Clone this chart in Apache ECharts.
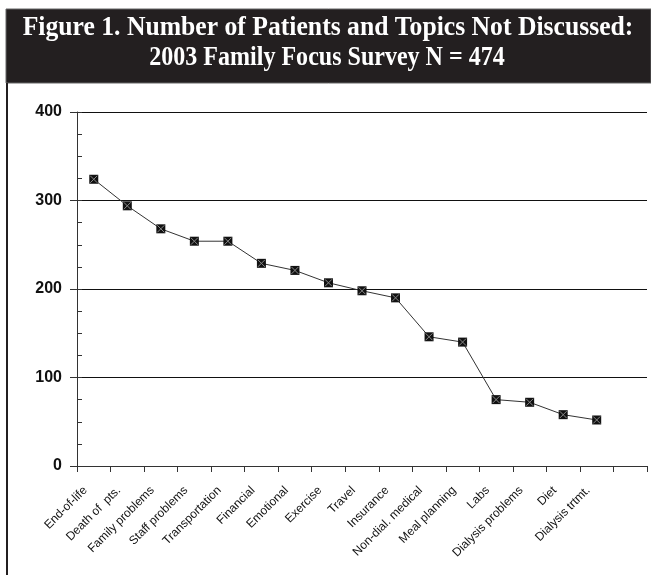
<!DOCTYPE html>
<html>
<head>
<meta charset="utf-8">
<script src="https://cdn.jsdelivr.net/npm/echarts@6/dist/echarts.min.js"></script>
<style>
html,body{margin:0;padding:0;background:#fff;}
#c{width:651px;height:575px;}
</style>
</head>
<body>
<div id="c"></div>
<script>
var titleLines = ['Figure 1. Number of Patients and Topics Not Discussed:', '2003 Family Focus Survey N = 474'];
var categories = ['End-of-life', 'Death of  pts.', 'Family problems', 'Staff problems', 'Transportation', 'Financial', 'Emotional', 'Exercise', 'Travel', 'Insurance', 'Non-dial. medical', 'Meal planning', 'Labs', 'Dialysis problems', 'Diet', 'Dialysis trtmt.', ''];
var patients = [324, 294, 268, 254, 254, 229, 221, 207, 198, 190, 146, 140, 75, 72, 58, 52];
var yTicks = [0, 100, 200, 300, 400];

var chart = echarts.init(document.getElementById('c'), null, {renderer: 'canvas'});
chart.setOption({
  backgroundColor: '#fff',
  animation: false,
  graphic: [
    {type: 'rect', shape: {x: 6, y: 9, width: 645, height: 74}, style: {fill: '#231f20', stroke: '#666', lineWidth: 1}, z: 0},
    {type: 'rect', shape: {x: 6, y: 83, width: 2, height: 492}, style: {fill: '#231f20'}, z: 0},
    {type: 'text', x: 328, y: 28, scaleX: 0.95, style: {text: titleLines[0], fill: '#fff', font: 'bold 27px "Liberation Serif", "Times New Roman", serif', align: 'center', verticalAlign: 'middle'}, z: 1},
    {type: 'text', x: 327, y: 58, scaleX: 0.89, style: {text: titleLines[1], fill: '#fff', font: 'bold 27px "Liberation Serif", "Times New Roman", serif', align: 'center', verticalAlign: 'middle'}, z: 1}
  ],
  grid: {left: 77, right: 4, top: 112, bottom: 109, containLabel: false},
  xAxis: {
    type: 'category',
    data: categories,
    boundaryGap: true,
    axisLine: {lineStyle: {color: '#333', width: 1}},
    axisTick: {show: true, alignWithLabel: false, interval: 0, length: 6, lineStyle: {color: '#333'}},
    axisLabel: {interval: 0, rotate: 45, margin: 14, padding: [0, 12, 0, 0], color: '#111', fontSize: 12, fontFamily: 'Liberation Sans, Arial, sans-serif'},
    splitLine: {show: false}
  },
  yAxis: [
    {
      type: 'value', min: 0, max: 400, interval: 100,
      axisLine: {show: true, lineStyle: {color: '#333'}},
      axisTick: {show: true, length: 7, lineStyle: {color: '#333'}},
      axisLabel: {margin: 15, color: '#111', fontSize: 16, fontWeight: 'bold', fontFamily: 'Liberation Sans, Arial, sans-serif',
        formatter: function (v) { return yTicks.indexOf(v) >= 0 ? String(v) : ''; }},
      splitLine: {show: true, lineStyle: {color: '#111', width: 1}}
    },
    {
      type: 'value', min: 0, max: 400, interval: 25, position: 'left',
      axisLine: {show: false},
      axisTick: {show: true, inside: true, length: 5, lineStyle: {color: '#333'}},
      axisLabel: {show: false},
      splitLine: {show: false}
    }
  ],
  series: [
    {
      type: 'line', data: patients, yAxisIndex: 0,
      symbol: 'rect', symbolSize: 9, showSymbol: true,
      itemStyle: {color: '#111'},
      lineStyle: {color: '#333', width: 1},
      z: 3
    },
    {
      type: 'line', data: patients, yAxisIndex: 0,
      symbol: 'path://M0,0L10,10M10,0L0,10', symbolSize: 7,
      itemStyle: {color: 'none', borderColor: '#888', borderWidth: 1},
      lineStyle: {opacity: 0, width: 0},
      z: 4, silent: true
    }
  ]
});
</script>
</body>
</html>
